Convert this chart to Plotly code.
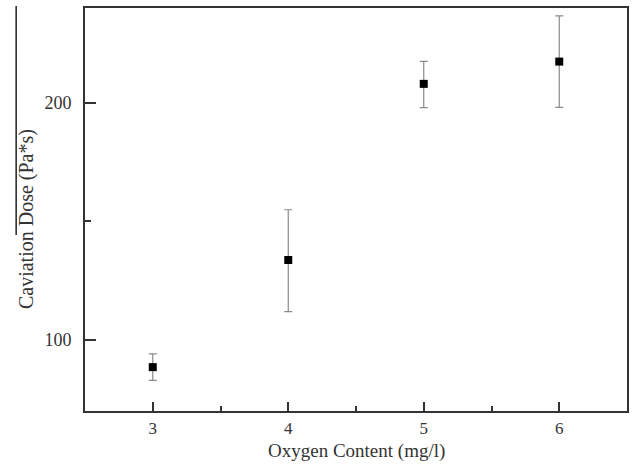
import plotly.graph_objects as go

oxygen = [3, 4, 5, 6]
dose = [88.5, 133.7, 208.0, 217.4]
err_plus = [5.6, 21.2, 9.5, 19.3]
err_minus = [5.6, 21.8, 10.0, 19.3]

FONT = "Liberation Serif"
TXT = "#333"

fig = go.Figure()
fig.add_trace(go.Scatter(
    x=oxygen, y=dose, mode="markers",
    marker=dict(symbol="square", size=8, color="black"),
    error_y=dict(type="data", symmetric=False, array=err_plus, arrayminus=err_minus,
                 color="#8a8a8a", thickness=1.2, width=4),
    showlegend=False,
))

fig.update_layout(
    width=634, height=471,
    margin=dict(l=85, r=5, t=8, b=60),
    paper_bgcolor="white", plot_bgcolor="white",
    font=dict(family=FONT, size=18, color=TXT),
    shapes=[dict(type="line", xref="paper", yref="paper",
                 x0=-0.127, x1=-0.127, y0=0.437, y1=1.005,
                 line=dict(color="#222", width=1.5))],
    annotations=[
        dict(text="Oxygen Content (mg/l)", xref="paper", yref="paper",
             x=0.5, y=-0.0993, xanchor="center", yanchor="middle", showarrow=False,
             font=dict(family=FONT, size=19, color=TXT)),
        dict(text="Caviation Dose (Pa*s)", xref="paper", yref="paper", textangle=-90,
             x=-0.134, y=0.476, xanchor="left", yanchor="middle", showarrow=False,
             font=dict(family=FONT, size=20, color=TXT)),
    ],
)
fig.update_xaxes(
    range=[2.5, 6.5], tickvals=[3, 4, 5, 6],
    showline=True, linecolor="#333", linewidth=2, mirror=True,
    ticks="inside", ticklen=9, tickwidth=2, tickcolor="#333",
    minor=dict(tickvals=[3.5, 4.5, 5.5], ticks="inside", ticklen=5, tickwidth=2, tickcolor="#333"),
    showgrid=False, zeroline=False,
    tickfont=dict(size=17),
    ticklabelstandoff=1,
)
fig.update_yaxes(
    range=[70, 240], tickvals=[100, 200],
    showline=True, linecolor="#333", linewidth=2, mirror=True,
    ticks="inside", ticklen=11, tickwidth=2, tickcolor="#333",
    minor=dict(tickvals=[150], ticks="inside", ticklen=6, tickwidth=2, tickcolor="#333"),
    showgrid=False, zeroline=False,
    tickfont=dict(size=18),
    ticklabelstandoff=8,
)

fig.write_html("out.html")
